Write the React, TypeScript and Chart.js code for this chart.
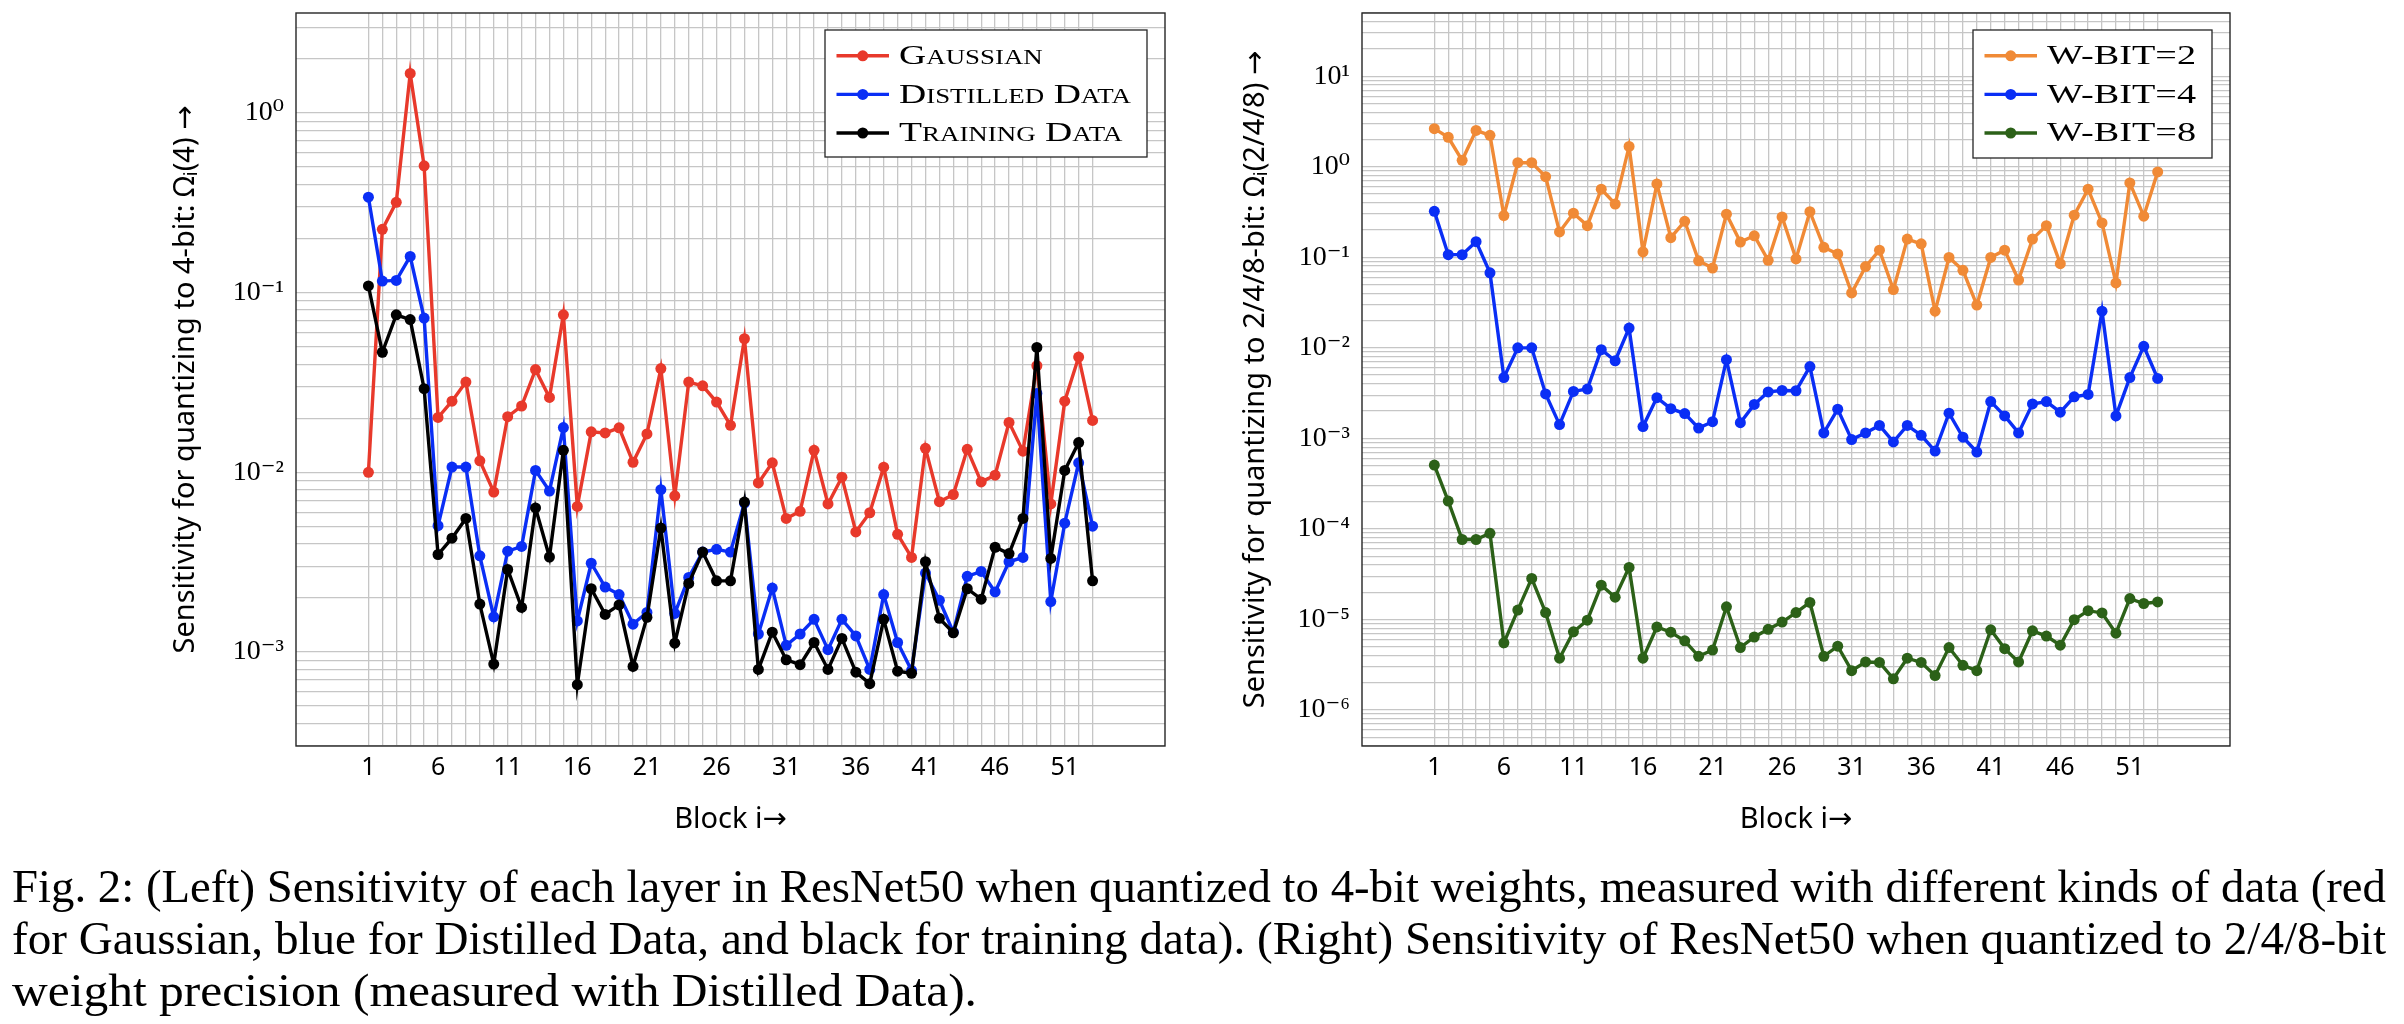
import React, { useEffect, useRef } from 'react';
import { Chart, registerables } from 'chart.js';

Chart.register(...registerables);

// ---------------- data ----------------
const blocks = [
  1, 2, 3, 4, 5, 6, 7, 8, 9, 10, 11, 12, 13, 14, 15, 16, 17, 18, 19, 20, 21, 22, 23, 24, 25, 26, 27,
  28, 29, 30, 31, 32, 33, 34, 35, 36, 37, 38, 39, 40, 41, 42, 43, 44, 45, 46, 47, 48, 49, 50, 51, 52, 53,
];
const xTickValues = [1, 6, 11, 16, 21, 26, 31, 36, 41, 46, 51];
const xTickLabels = ['1', '6', '11', '16', '21', '26', '31', '36', '41', '46', '51'];

const leftSeriesNames = ['Gaussian', 'Distilled Data', 'Training Data'];
const gaussian = [
  0.01, 0.225, 0.318, 1.66, 0.508, 0.0202, 0.0249, 0.0318, 0.0116, 0.00777, 0.0204, 0.0234, 0.0373,
  0.0261, 0.0753, 0.00646, 0.0168, 0.01656, 0.0177, 0.01138, 0.01637, 0.0378, 0.0074, 0.0318, 0.0303,
  0.0246, 0.01828, 0.0554, 0.00873, 0.0113, 0.00554, 0.00607, 0.01327, 0.00667, 0.0094, 0.00466,
  0.00596, 0.01069, 0.00452, 0.00336, 0.0136, 0.00687, 0.00753, 0.01343, 0.00885, 0.00964, 0.01897,
  0.01312, 0.0392, 0.00667, 0.0249, 0.0438, 0.01945,
];
const distilled = [
  0.34, 0.116, 0.117, 0.159, 0.0722, 0.00505, 0.0107, 0.0107, 0.00343, 0.00157, 0.00364, 0.00387,
  0.01025, 0.00787, 0.01774, 0.00149, 0.00312, 0.0023, 0.00209, 0.00143, 0.00166, 0.00801, 0.00164,
  0.0026, 0.0036, 0.00373, 0.0036, 0.00675, 0.00126, 0.00227, 0.00109, 0.00126, 0.00152, 0.00103,
  0.00152, 0.00123, 0.0008, 0.00209, 0.00113, 0.00079, 0.00275, 0.00194, 0.00129, 0.00264, 0.00281,
  0.00216, 0.00318, 0.00336, 0.0275, 0.00191, 0.00521, 0.0113, 0.00502,
];
const training = [
  0.109, 0.0466, 0.0753, 0.0708, 0.0292, 0.00349, 0.0043, 0.00554, 0.00185, 0.000857, 0.00288,
  0.00177, 0.00634, 0.00338, 0.01327, 0.000658, 0.00225, 0.00162, 0.00183, 0.000832, 0.00156, 0.0049,
  0.00112, 0.00241, 0.0036, 0.00249, 0.00249, 0.00683, 0.0008, 0.00129, 0.000906, 0.000851, 0.00113,
  0.0008, 0.00119, 0.000773, 0.000667, 0.00152, 0.000782, 0.000762, 0.00318, 0.00154, 0.00128,
  0.00225, 0.00197, 0.00383, 0.00353, 0.00554, 0.0496, 0.00332, 0.01025, 0.01465, 0.00249,
];

const rightSeriesNames = ['W-BIT=2', 'W-BIT=4', 'W-BIT=8'];
const wbit2 = [
  2.64, 2.12, 1.18, 2.52, 2.23, 0.289, 1.11, 1.11, 0.778, 0.191, 0.307, 0.224, 0.566, 0.388, 1.68,
  0.115, 0.647, 0.165, 0.25, 0.0916, 0.0762, 0.3, 0.1475, 0.173, 0.0927, 0.279, 0.0961, 0.319, 0.129,
  0.109, 0.0404, 0.079, 0.12, 0.044, 0.159, 0.141, 0.0254, 0.0997, 0.0718, 0.0297, 0.0997, 0.12,
  0.0562, 0.159, 0.224, 0.085, 0.292, 0.566, 0.24, 0.0522, 0.664, 0.285, 0.879,
];
const wbit4 = [
  0.322, 0.107, 0.107, 0.149, 0.0675, 0.0047, 0.01, 0.01, 0.0031, 0.00142, 0.0033, 0.00351, 0.00955,
  0.0072, 0.01656, 0.00135, 0.00282, 0.00213, 0.00188, 0.0013, 0.00153, 0.0074, 0.00149, 0.00237,
  0.00326, 0.00338, 0.00336, 0.00622, 0.00115, 0.0021, 0.00097, 0.00115, 0.00139, 0.000914, 0.00139,
  0.00108, 0.000724, 0.0019, 0.00103, 0.000707, 0.00255, 0.00177, 0.00115, 0.0024, 0.00255, 0.00195,
  0.00288, 0.00306, 0.0254, 0.00177, 0.0047, 0.0104, 0.00459,
];
const wbit8 = [
  5.08e-4, 2.03e-4, 7.64e-5, 7.64e-5, 8.95e-5, 5.52e-6, 1.27e-5, 2.84e-5, 1.19e-5, 3.73e-6, 7.31e-6,
  9.81e-6, 2.39e-5, 1.76e-5, 3.76e-5, 3.73e-6, 8.26e-6, 7.23e-6, 5.8e-6, 3.92e-6, 4.59e-6, 1.38e-5,
  4.89e-6, 6.4e-6, 7.78e-6, 9.35e-6, 1.19e-5, 1.54e-5, 3.92e-6, 5.07e-6, 2.72e-6, 3.39e-6, 3.35e-6,
  2.21e-6, 3.73e-6, 3.35e-6, 2.4e-6, 4.89e-6, 3.11e-6, 2.72e-6, 7.68e-6, 4.76e-6, 3.39e-6, 7.49e-6,
  6.55e-6, 5.19e-6, 9.93e-6, 1.25e-5, 1.18e-5, 7.05e-6, 1.7e-5, 1.5e-5, 1.56e-5,
];

const leftDecadeExps = [-3, -2, -1, 0];
const leftDecadeLabels = ['10⁻³', '10⁻²', '10⁻¹', '10⁰'];
const rightDecadeExps = [-6, -5, -4, -3, -2, -1, 0, 1];
const rightDecadeLabels = ['10⁻⁶', '10⁻⁵', '10⁻⁴', '10⁻³', '10⁻²', '10⁻¹', '10⁰', '10¹'];

const leftYTitle = 'Sensitivity for quantizing to 4-bit: Ωᵢ(4) →';
const rightYTitle = 'Sensitivity for quantizing to 2/4/8-bit: Ωᵢ(2/4/8) →';
const xTitle = 'Block i→';

const captionLines = [
  'Fig. 2: (Left) Sensitivity of each layer in ResNet50 when quantized to 4-bit weights, measured with different kinds of data (red',
  'for Gaussian, blue for Distilled Data, and black for training data). (Right) Sensitivity of ResNet50 when quantized to 2/4/8-bit',
  'weight precision (measured with Distilled Data).',
];

// ---------------- helpers ----------------
const GRID = '#c6c6c6';
const SANS = '"Noto Sans", "DejaVu Sans", sans-serif';
const SERIF = '"Liberation Serif", "DejaVu Serif", serif';

function logGridValues(min: number, max: number) {
  const out: number[] = [];
  const lo = Math.floor(Math.log10(min));
  const hi = Math.ceil(Math.log10(max));
  for (let e = lo; e <= hi; e++) {
    for (let m = 1; m < 10; m++) {
      const v = m * Math.pow(10, e);
      if (v >= min && v <= max) out.push(v);
    }
  }
  return out;
}

const frameLegendPlugin = {
  id: 'frameLegend',
  afterDraw(chart: any, _args: any, opts: any) {
    const { ctx, chartArea: a } = chart;
    ctx.save();
    ctx.strokeStyle = '#262626';
    ctx.lineWidth = 1.4;
    ctx.strokeRect(a.left, a.top, a.right - a.left, a.bottom - a.top);

    const x0 = a.right - opts.marginRight - opts.width;
    const y0 = a.top + opts.marginTop;
    ctx.fillStyle = '#ffffff';
    ctx.fillRect(x0, y0, opts.width, opts.height);
    ctx.strokeStyle = '#262626';
    ctx.lineWidth = 1.3;
    ctx.strokeRect(x0, y0, opts.width, opts.height);

    ctx.font = opts.font;
    try {
      (ctx as any).fontVariantCaps = opts.smallCaps ? 'small-caps' : 'normal';
    } catch (e) {}
    const datasets = chart.data.datasets;
    let maxW = 0;
    datasets.forEach((ds: any) => {
      maxW = Math.max(maxW, ctx.measureText(ds.label).width);
    });
    const sx = maxW > 0 ? opts.textWidth / maxW : 1;

    datasets.forEach((ds: any, i: number) => {
      const cy = y0 + opts.firstRow + i * opts.rowGap;
      ctx.strokeStyle = ds.borderColor;
      ctx.lineWidth = ds.borderWidth;
      ctx.beginPath();
      ctx.moveTo(x0 + opts.lineStart, cy);
      ctx.lineTo(x0 + opts.lineEnd, cy);
      ctx.stroke();
      ctx.fillStyle = ds.borderColor;
      ctx.beginPath();
      ctx.arc(x0 + (opts.lineStart + opts.lineEnd) / 2, cy, opts.markerRadius, 0, Math.PI * 2);
      ctx.fill();

      ctx.save();
      ctx.translate(x0 + opts.textStart, cy);
      ctx.scale(sx, 1);
      ctx.fillStyle = '#000';
      ctx.textAlign = 'left';
      ctx.textBaseline = 'middle';
      ctx.fillText(ds.label, 0, 1);
      ctx.restore();
    });
    ctx.restore();
  },
};

type SeriesDef = { name: string; values: number[]; color: string; order: number };

type PanelProps = {
  left: number;
  width: number;
  series: SeriesDef[];
  yMin: number;
  yMax: number;
  decadeExps: number[];
  decadeLabels: string[];
  yTitle: string;
  yAxisWidth: number;
  padRight: number;
  yTitlePad: number;
  legend: any;
};

function Panel(p: PanelProps) {
  const ref = useRef<HTMLCanvasElement>(null);
  useEffect(() => {
    const yGrid = logGridValues(p.yMin, p.yMax);
    const chart = new Chart(ref.current as HTMLCanvasElement, {
      type: 'line',
      data: {
        datasets: p.series.map((s) => ({
          label: s.name,
          data: blocks.map((b, i) => ({ x: b, y: s.values[i] })),
          borderColor: s.color,
          backgroundColor: s.color,
          pointBackgroundColor: s.color,
          pointBorderColor: s.color,
          pointBorderWidth: 0,
          pointRadius: 5.5,
          borderWidth: 3.4,
          borderJoinStyle: 'miter',
          tension: 0,
          fill: false,
          order: s.order,
        })),
      } as any,
      plugins: [frameLegendPlugin as any],
      options: {
        responsive: false,
        animation: false,
        events: [],
        layout: { padding: { left: 0, top: 53, right: p.padRight, bottom: 0 } },
        plugins: {
          legend: { display: false },
          tooltip: { enabled: false },
          frameLegend: p.legend,
        } as any,
        scales: {
          x: {
            type: 'linear',
            min: -4.2,
            max: 58.2,
            afterBuildTicks: (scale: any) => {
              scale.ticks = blocks.map((v) => ({ value: v }));
            },
            afterFit: (scale: any) => {
              scale.height = 114;
            },
            ticks: {
              autoSkip: false,
              maxRotation: 0,
              minRotation: 0,
              padding: 7,
              color: '#000',
              font: { family: SANS, size: 25 },
              callback: (v: any) => {
                const idx = xTickValues.indexOf(Number(v));
                return idx >= 0 ? xTickLabels[idx] : '';
              },
            },
            grid: { color: GRID, lineWidth: 1.3, drawTicks: false },
            border: { display: false },
            title: {
              display: true,
              text: xTitle,
              color: '#000',
              font: { family: SANS, size: 29 },
              padding: { top: 0, bottom: 23 },
            },
          },
          y: {
            type: 'logarithmic',
            min: p.yMin,
            max: p.yMax,
            afterBuildTicks: (scale: any) => {
              scale.ticks = yGrid.map((v) => ({ value: v }));
            },
            afterFit: (scale: any) => {
              scale.width = p.yAxisWidth;
            },
            ticks: {
              autoSkip: false,
              padding: 12,
              color: '#000',
              font: { family: SERIF, size: 28 },
              callback: (v: any) => {
                const lg = Math.log10(Number(v));
                const e = Math.round(lg);
                if (Math.abs(lg - e) > 1e-7) return '';
                const idx = p.decadeExps.indexOf(e);
                return idx >= 0 ? p.decadeLabels[idx] : '';
              },
            },
            grid: { color: GRID, lineWidth: 1.3, drawTicks: false },
            border: { display: false },
            title: {
              display: true,
              text: p.yTitle,
              color: '#000',
              font: { family: SANS, size: 29 },
              padding: { top: p.yTitlePad, bottom: 0 },
            },
          },
        } as any,
      },
    });
    return () => chart.destroy();
  }, []);
  return (
    <canvas
      ref={ref}
      width={p.width}
      height={900}
      style={{ position: 'absolute', left: p.left, top: -40, width: p.width, height: 900 }}
    />
  );
}

function Caption() {
  const top = 850;
  const baselines = [902, 954, 1006];
  const widths = [2374, 2374, 965];
  return (
    <svg
      width={2404}
      height={174}
      style={{ position: 'absolute', left: 0, top }}
      xmlns="http://www.w3.org/2000/svg"
    >
      {captionLines.map((t, i) => (
        <text
          key={i}
          x={12}
          y={baselines[i] - top}
          fontFamily={SERIF}
          fontSize={46}
          fill="#000"
          textLength={widths[i]}
          lengthAdjust="spacingAndGlyphs"
        >
          {t}
        </text>
      ))}
    </svg>
  );
}

export default function App() {
  const legendBase = {
    marginTop: 17,
    firstRow: 25.8,
    rowGap: 38.6,
    lineStart: 11.5,
    lineEnd: 64,
    markerRadius: 5.5,
    textStart: 74,
  };
  return (
    <div style={{ position: 'absolute', left: 0, top: 0, width: 2404, height: 1024, overflow: 'hidden', background: '#fff' }}>
      <Panel
        left={0}
        width={1200}
        series={[
          { name: leftSeriesNames[0], values: gaussian, color: '#e8392b', order: 3 },
          { name: leftSeriesNames[1], values: distilled, color: '#0a2ef5', order: 2 },
          { name: leftSeriesNames[2], values: training, color: '#000000', order: 1 },
        ]}
        yMin={3.0e-4}
        yMax={3.6}
        decadeExps={leftDecadeExps}
        decadeLabels={leftDecadeLabels}
        yTitle={leftYTitle}
        yAxisWidth={296}
        padRight={35}
        yTitlePad={168}
        legend={{
          ...legendBase,
          width: 322,
          height: 127,
          marginRight: 18,
          font: `small-caps 28px ${SERIF}`,
          smallCaps: true,
          textWidth: 232,
        }}
      />
      <Panel
        left={1200}
        width={1204}
        series={[
          { name: rightSeriesNames[0], values: wbit2, color: '#f08a36', order: 3 },
          { name: rightSeriesNames[1], values: wbit4, color: '#0a2ef5', order: 2 },
          { name: rightSeriesNames[2], values: wbit8, color: '#2c6118', order: 1 },
        ]}
        yMin={4.0e-7}
        yMax={50}
        decadeExps={rightDecadeExps}
        decadeLabels={rightDecadeLabels}
        yTitle={rightYTitle}
        yAxisWidth={162}
        padRight={174}
        yTitlePad={38}
        legend={{
          ...legendBase,
          width: 239,
          height: 128,
          marginRight: 18,
          font: `28px ${SERIF}`,
          smallCaps: false,
          textWidth: 149,
        }}
      />
      <Caption />
    </div>
  );
}
